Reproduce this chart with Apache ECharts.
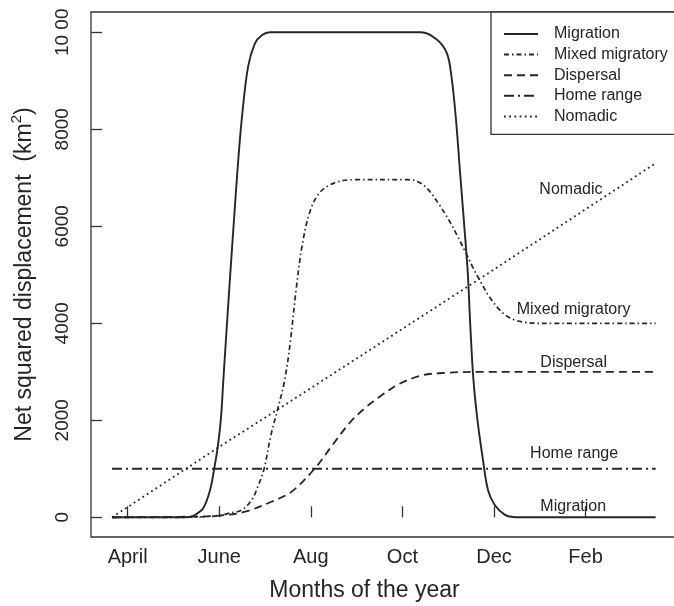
<!DOCTYPE html>
<html>
<head>
<meta charset="utf-8">
<script src="https://cdn.jsdelivr.net/npm/echarts@6/dist/echarts.min.js"></script>
<style>
  html, body { margin: 0; padding: 0; background: #fff; }
  #chart { width: 674px; height: 606px; }
</style>
</head>
<body>
<div id="chart"></div>
<script>
// Month scale: 4 = April, 6 = June, ... 12 = December, 14 = February of the following year.
const monthTicks = [4, 6, 8, 10, 12, 14];
const monthTickLabels = ['April', 'June', 'Aug', 'Oct', 'Dec', 'Feb'];
const nsdTicks = [0, 2000, 4000, 6000, 8000, 10000];
const nsdTickLabels = ['0', '2000', '4000', '6000', '8000', '10 00'];

// Net squared displacement (km²) of each movement pattern through the year
const migrationMonths = [3.66, 5.14, 5.36, 5.47, 5.65, 5.80, 5.89, 5.97, 6.04, 6.09, 6.17, 6.24, 6.32, 6.40, 6.49, 6.63, 6.78, 6.93, 7.11,
  10.41, 10.75, 10.97, 11.07, 11.17, 11.26, 11.36, 11.43, 11.48, 11.55, 11.64, 11.76, 11.87, 12.02, 12.24, 12.41, 12.57, 15.53];
const migrationNSD = [0, 0, 5, 47, 186, 563, 1000, 1460, 2070, 2830, 4000, 5000, 6100, 7170, 8190, 9290, 9770, 9940, 10000,
  10000, 9850, 9570, 9100, 8200, 7100, 5900, 5000, 4000, 2850, 2000, 1180, 560, 250, 50, 5, 0, 0];

const mixedMonths = [3.66, 5.14, 5.98, 6.20, 6.49, 6.71, 6.85, 6.98, 7.13, 7.29, 7.43, 7.55, 7.68, 7.81, 7.98, 8.20, 8.53, 8.96,
  10.10, 10.34, 10.56, 10.78, 11.00, 11.19, 11.36, 11.53, 11.71, 11.91, 12.13, 12.35, 12.61, 13.00, 15.53];
const mixedNSD = [0, 0, 30, 82, 150, 360, 650, 1000, 1700, 2280, 2830, 3600, 4700, 5600, 6300, 6700, 6900, 6960,
  6960, 6920, 6760, 6480, 6150, 5820, 5500, 5170, 4850, 4530, 4270, 4110, 4030, 4000, 4000];

const dispersalMonths = [3.66, 5.14, 5.98, 6.56, 7.14, 7.58, 8.09, 8.45, 8.85, 9.18, 9.51, 9.95, 10.45, 10.97, 11.69, 15.53];
const dispersalNSD = [0, 10, 33, 115, 320, 530, 1010, 1460, 1950, 2250, 2490, 2760, 2930, 2980, 3000, 3000];

const homeRangeMonths = [3.66, 15.53];
const homeRangeNSD = [1000, 1000];

const nomadicMonths = [3.66, 5.98, 7.39, 11.58, 15.53];
const nomadicNSD = [0, 1440, 2290, 4850, 7300];

const seriesNames = ['Migration', 'Mixed migratory', 'Dispersal', 'Home range', 'Nomadic'];

const FONT = '"Liberation Sans", Arial, Helvetica, sans-serif';
const INK = '#262626';

function pairs(xs, ys) {
  return xs.map((x, i) => [x, ys[i]]);
}

// Curve name written beside each line, placed in data units
const curveLabelAt = {
  'Migration': [13.73, 220],
  'Mixed migratory': [13.74, 4280],
  'Dispersal': [13.74, 3200],
  'Home range': [13.75, 1320],
  'Nomadic': [13.68, 6760]
};

function curve(name, xs, ys, lineStyle, smooth) {
  return {
    name: name,
    type: 'line',
    data: pairs(xs, ys),
    showSymbol: false,
    symbol: 'none',
    smooth: smooth,
    lineStyle: Object.assign({ color: INK, cap: 'butt', join: 'round' }, lineStyle),
    itemStyle: { color: INK },
    emphasis: { disabled: true },
    markPoint: {
      silent: true,
      symbol: 'circle',
      symbolSize: 0,
      itemStyle: { color: 'transparent' },
      label: {
        show: true,
        position: 'inside',
        formatter: name,
        fontFamily: FONT,
        fontSize: 16,
        color: INK
      },
      data: [{ coord: curveLabelAt[name] }]
    }
  };
}

const chart = echarts.init(document.getElementById('chart'), null, { renderer: 'canvas' });

chart.setOption({
  animation: false,
  backgroundColor: '#fff',
  textStyle: { fontFamily: FONT },
  grid: {
    left: 91, top: 12, right: -5, bottom: 69,
    show: true, borderColor: '#333', borderWidth: 1.3,
    containLabel: false, outerBoundsMode: 'none'
  },
  legend: {
    orient: 'vertical',
    left: 491, top: 12,
    padding: [14, 60, 10, 12],
    itemWidth: 34, itemHeight: 14, itemGap: 4.6,
    borderColor: '#333', borderWidth: 1.3, borderRadius: 0,
    backgroundColor: '#fff',
    selectedMode: false,
    data: seriesNames,
    // keys are drawn as plain line samples, without a marker
    itemStyle: { color: 'rgba(0,0,0,0)', borderWidth: 0, opacity: 0 },
    textStyle: { fontFamily: FONT, fontSize: 16, color: INK, lineHeight: 16, padding: [0, 0, 0, 11] }
  },
  xAxis: {
    type: 'value',
    min: 3.2, max: 16.04,
    name: 'Months of the year',
    nameLocation: 'middle',
    nameGap: 42,
    nameMoveOverlap: false,
    nameTextStyle: { fontFamily: FONT, fontSize: 23, color: INK, padding: [0, 41, 0, 0] },
    axisLine: { show: false },
    axisTick: { show: true, inside: true, length: 11, customValues: monthTicks, lineStyle: { color: '#333', width: 1.3 } },
    axisLabel: {
      show: true, margin: 10, customValues: monthTicks,
      fontFamily: FONT, fontSize: 20, color: INK,
      formatter: v => monthTickLabels[monthTicks.indexOf(v)]
    },
    splitLine: { show: false }
  },
  yAxis: {
    type: 'value',
    min: -406, max: 10418,
    name: '{m|Net squared displacement  (km}{sup|2}{m|)}',
    nameLocation: 'middle',
    nameGap: 55,
    nameRotate: 90,
    nameMoveOverlap: false,
    nameTextStyle: {
      fontFamily: FONT, fontSize: 23, color: INK,
      rich: {
        m: { fontFamily: FONT, fontSize: 23, color: INK, verticalAlign: 'bottom', padding: [4, 0, 0, 0] },
        sup: { fontFamily: FONT, fontSize: 15, color: INK, verticalAlign: 'top' }
      }
    },
    axisLine: { show: false },
    axisTick: { show: true, inside: true, length: 11, customValues: nsdTicks, lineStyle: { color: '#333', width: 1.3 } },
    axisLabel: {
      show: true, margin: 19, rotate: 90, customValues: nsdTicks,
      fontFamily: FONT, fontSize: 19, color: INK,
      formatter: v => nsdTickLabels[nsdTicks.indexOf(v)]
    },
    splitLine: { show: false }
  },
  series: [
    curve('Migration', migrationMonths, migrationNSD, { width: 1.9, type: 'solid' }, 0.35),
    curve('Mixed migratory', mixedMonths, mixedNSD, { width: 1.7, type: [5, 3, 1.5, 3] }, 0.35),
    curve('Dispersal', dispersalMonths, dispersalNSD, { width: 1.8, type: [8, 5] }, 0.35),
    curve('Home range', homeRangeMonths, homeRangeNSD, { width: 2, type: [10, 4, 2, 4] }, false),
    curve('Nomadic', nomadicMonths, nomadicNSD, { width: 1.8, type: [1.8, 3.4] }, false)
  ]
});
</script>
</body>
</html>
